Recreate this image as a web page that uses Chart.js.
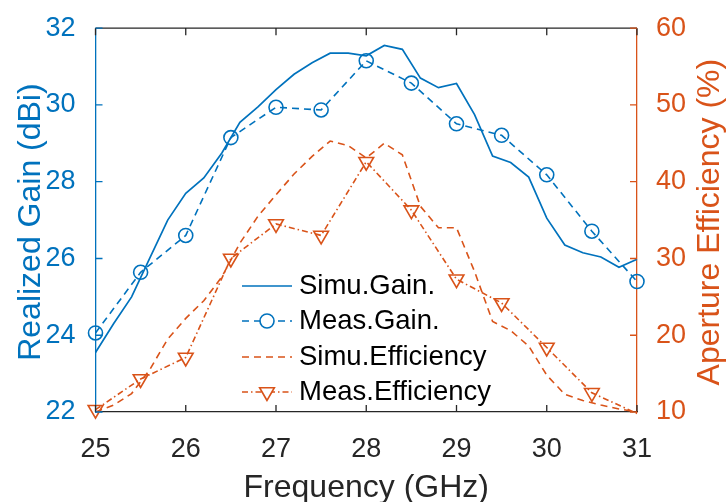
<!DOCTYPE html>
<html>
<head>
<meta charset="utf-8">
<script src="https://cdn.jsdelivr.net/npm/chart.js@4"></script>
<style>
  html, body { margin: 0; padding: 0; background: #fff; }
  #wrap { width: 727px; height: 502px; }
</style>
</head>
<body>
<div id="wrap"><canvas id="gainChart"></canvas></div>
<script>
// frequency points (GHz)
var simFreq = [25, 25.2, 25.4, 25.6, 25.8, 26, 26.2, 26.4, 26.6, 26.8, 27, 27.2, 27.4, 27.6, 27.8, 28,
               28.2, 28.4, 28.6, 28.8, 29, 29.2, 29.4, 29.6, 29.8, 30, 30.2, 30.4, 30.6, 30.8, 31]
var measFreq = [25, 25.5, 26, 26.5, 27, 27.5, 28, 28.5, 29, 29.5, 30, 30.5, 31]

// realized gain (dBi)
var simuGain = [23.55, 24.3, 25.0, 26.0, 27.0, 27.7, 28.1, 28.75, 29.55, 29.95, 30.4, 30.8, 31.1, 31.35, 31.35, 31.28,
                31.55, 31.45, 30.7, 30.45, 30.56, 29.75, 28.67, 28.5, 28.12, 27.05, 26.35, 26.15, 26.04, 25.77, 25.98]
var measGain = [24.06, 25.64, 26.6, 29.15, 29.94, 29.87, 31.15, 30.57, 29.51, 29.21, 28.18, 26.71, 25.4]

// aperture efficiency (%)
var simuEff = [10.0, 10.9, 12.4, 15.5, 19.5, 22.2, 24.5, 27.6, 32.0, 35.5, 38.3, 41.0, 43.3, 45.3, 44.7, 43.1,
               45.0, 43.5, 36.8, 34.0, 34.0, 28.3, 21.8, 20.6, 18.6, 14.8, 12.3, 11.5, 10.9, 10.4, 10.0]
var measEff = [10.3, 14.3, 17.1, 30.0, 34.5, 33.0, 42.6, 36.3, 27.3, 24.2, 18.4, 12.5, 9.8]

var xTicks = [25, 26, 27, 28, 29, 30, 31]
var gainTicks = [22, 24, 26, 28, 30, 32]
var effTicks = [10, 20, 30, 40, 50, 60]

var legendNames = ['Simu.Gain.', 'Meas.Gain.', 'Simu.Efficiency', 'Meas.Efficiency']
var gainTitle = 'Realized Gain (dBi)'
var effTitle = 'Aperture Efficiency (%)'

const BLUE = '#0072BD'
const ORANGE = '#D95319'
const DARK = '#262626'
const FONT = "'Liberation Sans', Arial, sans-serif"

function pairs(xs, ys) {
  return xs.map(function (x, i) { return { x: x, y: ys[i] } })
}

// hide markers that fall below the axis limit (like matlab clipping)
function effRadius(c) {
  var v = c.raw ? c.raw.y : 0
  return v < 10 ? 0 : 8.5
}

function sideTitle(ctx, text, color, x, y) {
  ctx.save()
  ctx.translate(x, y)
  ctx.rotate(-Math.PI / 2)
  ctx.fillStyle = color
  ctx.font = '32px ' + FONT
  ctx.textAlign = 'center'
  ctx.textBaseline = 'middle'
  ctx.fillText(text, 0, 0)
  ctx.restore()
}

// inward ticks + top box line + both y titles (read bottom to top)
const boxTicks = {
  id: 'boxTicks',
  afterDatasetsDraw(chart) {
    const ctx = chart.ctx
    const a = chart.chartArea
    const len = 7
    ctx.save()
    ctx.lineWidth = 1.3

    ctx.strokeStyle = DARK
    ctx.beginPath()
    ctx.moveTo(a.left, a.top)
    ctx.lineTo(a.right, a.top)
    xTicks.forEach(function (t) {
      var px = chart.scales.x.getPixelForValue(t)
      ctx.moveTo(px, a.bottom)
      ctx.lineTo(px, a.bottom - len)
      ctx.moveTo(px, a.top)
      ctx.lineTo(px, a.top + len)
    })
    ctx.stroke()

    ctx.strokeStyle = BLUE
    ctx.beginPath()
    gainTicks.forEach(function (t) {
      var py = chart.scales.y.getPixelForValue(t)
      ctx.moveTo(a.left, py)
      ctx.lineTo(a.left + len, py)
    })
    ctx.stroke()

    ctx.strokeStyle = ORANGE
    ctx.beginPath()
    effTicks.forEach(function (t) {
      var py = chart.scales.y1.getPixelForValue(t)
      ctx.moveTo(a.right, py)
      ctx.lineTo(a.right - len, py)
    })
    ctx.stroke()
    ctx.restore()

    var midY = (a.top + a.bottom) / 2 + 2
    sideTitle(ctx, gainTitle, BLUE, 31, midY)
    sideTitle(ctx, effTitle, ORANGE, chart.width - 17, midY)
  }
}

// legend drawn inside the plot, line sample + marker + text
const insideLegend = {
  id: 'insideLegend',
  afterDraw(chart) {
    const ctx = chart.ctx
    const x0 = 242, x1 = 292, tx = 299
    const rows = [286, 321, 357, 392]
    ctx.save()
    chart.data.datasets.forEach(function (ds, i) {
      var y = rows[i]
      ctx.strokeStyle = ds.borderColor
      ctx.lineWidth = ds.borderWidth
      ctx.setLineDash(ds.borderDash || [])
      ctx.beginPath()
      ctx.moveTo(x0, y)
      ctx.lineTo(x1, y)
      ctx.stroke()
      ctx.setLineDash([])
      if (ds.legendMarker) {
        ctx.fillStyle = '#fff'
        Chart.helpers.drawPoint(ctx, {
          pointStyle: ds.pointStyle,
          rotation: ds.pointRotation || 0,
          radius: ds.legendRadius,
          borderWidth: 1.6
        }, (x0 + x1) / 2, y)
      }
      ctx.fillStyle = '#000'
      ctx.font = '27.5px ' + FONT
      ctx.textBaseline = 'middle'
      ctx.textAlign = 'left'
      ctx.fillText(legendNames[i], tx, y)
    })
    ctx.restore()
  }
}

const ctx = document.getElementById('gainChart')

new Chart(ctx, {
  type: 'line',
  data: {
    datasets: [{
      label: legendNames[0],
      data: pairs(simFreq, simuGain),
      yAxisID: 'y',
      borderColor: BLUE,
      borderWidth: 1.7,
      pointRadius: 0,
      tension: 0,
      clip: false
    }, {
      label: legendNames[1],
      data: pairs(measFreq, measGain),
      yAxisID: 'y',
      borderColor: BLUE,
      borderWidth: 1.6,
      borderDash: [7, 5],
      pointStyle: 'circle',
      pointRadius: 7,
      pointBorderWidth: 1.6,
      pointBackgroundColor: 'rgba(255,255,255,0)',
      pointBorderColor: BLUE,
      legendMarker: true,
      legendRadius: 7,
      tension: 0,
      clip: false
    }, {
      label: legendNames[2],
      data: pairs(simFreq, simuEff),
      yAxisID: 'y1',
      borderColor: ORANGE,
      borderWidth: 1.6,
      borderDash: [7, 5],
      pointRadius: 0,
      tension: 0,
      clip: false
    }, {
      label: legendNames[3],
      data: pairs(measFreq, measEff),
      yAxisID: 'y1',
      borderColor: ORANGE,
      borderWidth: 1.6,
      borderDash: [6, 3, 1.5, 3],
      pointStyle: 'triangle',
      pointRotation: 180,
      pointRadius: effRadius,
      pointBorderWidth: 1.6,
      pointBackgroundColor: 'rgba(255,255,255,0)',
      pointBorderColor: ORANGE,
      legendMarker: true,
      legendRadius: 8.5,
      tension: 0,
      clip: false
    }]
  },
  options: {
    responsive: true,
    maintainAspectRatio: false,
    animation: false,
    layout: { padding: { top: 21, left: 0, right: 0, bottom: 0 } },
    plugins: {
      legend: { display: false },
      tooltip: { enabled: false }
    },
    scales: {
      x: {
        type: 'linear',
        position: 'bottom',
        min: 25,
        max: 31,
        afterFit: function (s) { s.height = 90 },
        afterBuildTicks: function (s) { s.ticks = xTicks.map(function (v) { return { value: v } }) },
        grid: { display: false },
        border: { display: true, color: DARK, width: 1.3 },
        ticks: { color: DARK, font: { size: 27, family: FONT }, padding: 13, maxRotation: 0 },
        title: {
          display: true,
          text: 'Frequency (GHz)',
          color: DARK,
          font: { size: 32, family: FONT, lineHeight: 0.8 },
          padding: { top: 0, bottom: 1 }
        }
      },
      y: {
        position: 'left',
        min: 22,
        max: 32,
        afterFit: function (s) { s.width = 95.5 },
        afterBuildTicks: function (s) { s.ticks = gainTicks.map(function (v) { return { value: v } }) },
        grid: { display: false },
        border: { display: true, color: BLUE, width: 1.3 },
        ticks: { color: BLUE, font: { size: 27, family: FONT }, padding: 12 },
        title: { display: false }
      },
      y1: {
        position: 'right',
        min: 10,
        max: 60,
        afterFit: function (s) { s.width = 90 },
        afterBuildTicks: function (s) { s.ticks = effTicks.map(function (v) { return { value: v } }) },
        grid: { display: false },
        border: { display: true, color: ORANGE, width: 1.3 },
        ticks: { color: ORANGE, font: { size: 27, family: FONT }, padding: 11 },
        title: { display: false }
      }
    }
  },
  plugins: [boxTicks, insideLegend]
})
</script>
</body>
</html>
